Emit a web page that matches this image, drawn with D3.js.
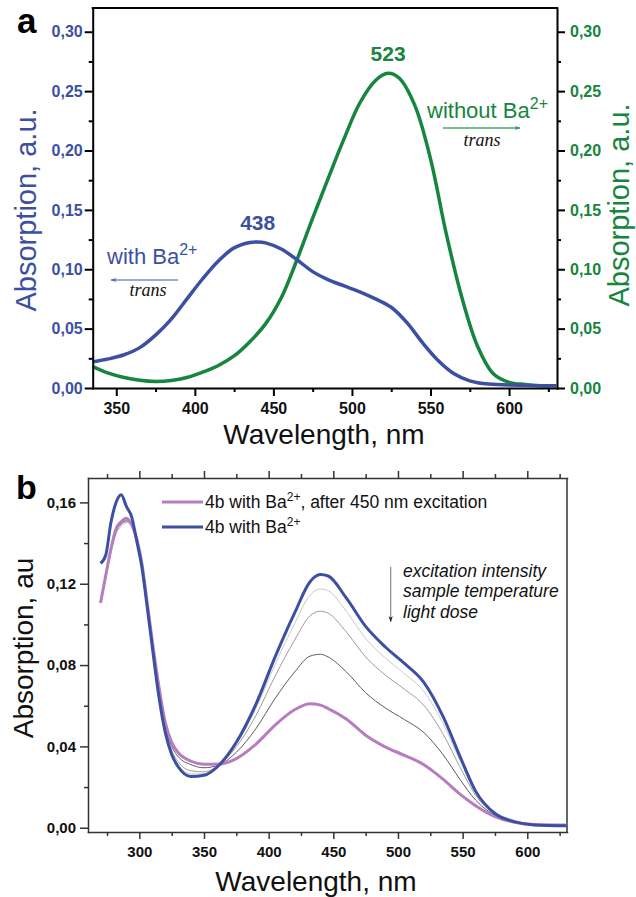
<!DOCTYPE html>
<html>
<head>
<meta charset="utf-8">
<script src="https://d3js.org/d3.v7.min.js"></script>
<style>
body { margin: 0; background: #fff; }
text { font-family: "Liberation Sans", Arial, sans-serif; }
</style>
</head>
<body>
<svg id="chart" width="636" height="897"></svg>
<script>
// ---- panel a : spectra with / without Ba2+ ----
const aWaveWith = [335,345,355,365,375,385,395,405,415,425,435,440,445,455,465,475,485,495,505,515,525,535,545,555,565,575,585,600,615,630];
const aWith     = [0.022,0.0245,0.028,0.034,0.0445,0.058,0.075,0.092,0.107,0.118,0.1225,0.123,0.1222,0.117,0.108,0.098,0.091,0.086,0.081,0.075,0.068,0.055,0.038,0.023,0.012,0.006,0.0035,0.0025,0.002,0.002];
const aWaveWithout = [335,345,355,365,375,385,395,405,415,425,435,445,455,465,475,485,495,505,515,523,530,540,550,560,570,580,590,600,610,620,630];
const aWithout     = [0.018,0.0125,0.0088,0.0065,0.0055,0.0063,0.0088,0.0133,0.019,0.027,0.039,0.054,0.076,0.108,0.143,0.177,0.210,0.240,0.259,0.265,0.261,0.238,0.193,0.130,0.076,0.035,0.012,0.0048,0.003,0.002,0.002];
const aXTicks = [350,400,450,500,550,600];
const aXMinor = [375,425,475,525,575,625];
const aYTicks = [0,0.05,0.10,0.15,0.20,0.25,0.30];
const aYMinor = [0.025,0.075,0.125,0.175,0.225,0.275];

// ---- panel b : 4b with Ba2+ before / after excitation ----
const bWave  = [270,274,278,282,286,290,294,298,302,306,310,315,320,325,330,340,350,362,375,390,405,420,432,440,446,460,475,490,505,520,535,548,560,575,590,605,631];
const bBa    = [0.130,0.134,0.150,0.160,0.1638,0.158,0.153,0.141,0.128,0.109,0.089,0.065,0.047,0.036,0.030,0.0252,0.0258,0.031,0.042,0.0605,0.084,0.1055,0.121,0.1245,0.1238,0.113,0.099,0.089,0.0808,0.0715,0.0545,0.035,0.018,0.007,0.003,0.0014,0.001];
const bAfter = [0.1105,0.124,0.137,0.147,0.1505,0.1522,0.149,0.142,0.130,0.111,0.092,0.070,0.052,0.042,0.037,0.0327,0.0312,0.0313,0.034,0.041,0.0505,0.058,0.061,0.0603,0.0586,0.0535,0.0455,0.0398,0.0356,0.031,0.0238,0.0165,0.0108,0.0055,0.0027,0.0016,0.0013];
const bLight = [0.112,0.123,0.135,0.1445,0.148,0.150,0.149,0.1415,0.129,0.110,0.090,0.066,0.048,0.037,0.031,0.0265,0.0265,0.031,0.0411,0.0584,0.0803,0.1003,0.1144,0.1174,0.1166,0.1065,0.0931,0.0836,0.0758,0.067,0.0511,0.033,0.0172,0.0068,0.0028,0.0015,0.0012];
const bMid   = [0.111,0.123,0.136,0.145,0.149,0.1505,0.1495,0.142,0.129,0.110,0.091,0.067,0.049,0.038,0.0325,0.028,0.0275,0.031,0.0398,0.055,0.0746,0.0922,0.1042,0.1065,0.1055,0.0963,0.084,0.0752,0.0681,0.0602,0.0459,0.0298,0.016,0.0066,0.0028,0.0015,0.0012];
const bDark  = [0.111,0.124,0.136,0.146,0.1495,0.151,0.149,0.142,0.130,0.111,0.091,0.068,0.050,0.040,0.035,0.031,0.0295,0.031,0.0371,0.0486,0.0636,0.0765,0.0844,0.0853,0.0840,0.0767,0.0664,0.059,0.0532,0.0468,0.0358,0.0237,0.0136,0.0061,0.0028,0.0015,0.0012];
const bXTicks = [300,350,400,450,500,550,600];
const bXMinor = [275,325,375,425,475,525,575,625];
const bYTicks = [0,0.04,0.08,0.12,0.16];
const bYMinor = [0.02,0.06,0.10,0.14];
const trendLines = ["excitation intensity", "sample temperature", "light dose"];

const BLUE = "#3b50a2", GREEN = "#16853d", PINK = "#b87cc0";

const svg = d3.select("#chart");
const fmt = d3.formatLocale({decimal: ",", thousands: ".", grouping: [3], currency: ["", ""]}).format(".2f");

const defs = svg.append("defs");
function marker(id, col) {
  defs.append("marker").attr("id", id)
    .attr("viewBox", "0 0 10 10").attr("refX", 9).attr("refY", 5)
    .attr("markerWidth", 9).attr("markerHeight", 6).attr("orient", "auto")
    .attr("markerUnits", "userSpaceOnUse")
    .append("path").attr("d", "M0,1.5 L10,5 L0,8.5 L2.5,5 Z").attr("fill", col);
}
marker("arBlue", "#5366b5");
marker("arGreen", "#2c9a52");
marker("arGrey", "#222");

function styleAxis(g, col, w, fs, txtCol) {
  g.select(".domain").attr("stroke", col).attr("stroke-width", w).attr("stroke-linecap", "square");
  g.selectAll(".tick line").attr("stroke", col).attr("stroke-width", w);
  g.selectAll(".tick text").attr("fill", txtCol).style("font-size", fs + "px").style("font-weight", "bold");
}
function minor(g, axisFn, col, w) {
  g.call(axisFn.tickSize(4).tickFormat(""));
  g.select(".domain").remove();
  g.selectAll(".tick line").attr("stroke", col).attr("stroke-width", w);
}

// ================= panel a =================
const ax = d3.scaleLinear().domain([335, 630.5]).range([92.7, 557]);
const ay = d3.scaleLinear().domain([0, 0.32]).range([388, 8]);

const pa = svg.append("g");
pa.append("line").attr("x1", ax.range()[0]).attr("x2", ax.range()[1]).attr("y1", ay(0.32)).attr("y2", ay(0.32))
  .attr("stroke", "#000").attr("stroke-width", 2).attr("stroke-linecap", "square");

const lineA = (xs) => d3.line().x((d, i) => ax(xs[i])).y(d => ay(d)).curve(d3.curveCatmullRom.alpha(0.5));
pa.append("path").attr("d", lineA(aWaveWithout)(aWithout)).attr("fill", "none").attr("stroke", GREEN).attr("stroke-width", 3.5);
pa.append("path").attr("d", lineA(aWaveWith)(aWith)).attr("fill", "none").attr("stroke", BLUE).attr("stroke-width", 3.5);

const gaB = pa.append("g").attr("transform", `translate(0,${ay(0)})`);
gaB.call(d3.axisBottom(ax).tickValues(aXTicks).tickSize(8).tickPadding(7).tickSizeOuter(0).tickFormat(d3.format("d")));
styleAxis(gaB, "#000", 2, 16, "#111");
minor(pa.append("g").attr("transform", `translate(0,${ay(0)})`), d3.axisBottom(ax).tickValues(aXMinor), "#000", 2);

const gaL = pa.append("g").attr("transform", `translate(${ax.range()[0]},0)`);
gaL.call(d3.axisLeft(ay).tickValues(aYTicks).tickSize(8).tickPadding(2).tickSizeOuter(0).tickFormat(fmt));
styleAxis(gaL, "#000", 2, 16, BLUE);
minor(pa.append("g").attr("transform", `translate(${ax.range()[0]},0)`), d3.axisLeft(ay).tickValues(aYMinor), "#000", 2);

const gaR = pa.append("g").attr("transform", `translate(${ax.range()[1]},0)`);
gaR.call(d3.axisRight(ay).tickValues(aYTicks).tickSize(8).tickPadding(5).tickSizeOuter(0).tickFormat(fmt));
styleAxis(gaR, "#000", 2, 16, GREEN);
minor(pa.append("g").attr("transform", `translate(${ax.range()[1]},0)`), d3.axisRight(ay).tickValues(aYMinor), "#000", 2);

pa.append("text").attr("x", 324).attr("y", 444).attr("text-anchor", "middle")
  .style("font-size", "28px").attr("fill", "#111").text("Wavelength, nm");
pa.append("text").attr("transform", "translate(36,210) rotate(-90)").attr("text-anchor", "middle")
  .style("font-size", "29px").attr("fill", BLUE).text("Absorption, a.u.");
pa.append("text").attr("transform", "translate(629,205) rotate(-90)").attr("text-anchor", "middle")
  .style("font-size", "29px").attr("fill", GREEN).text("Absorption, a.u.");
pa.append("text").attr("x", 17).attr("y", 33).style("font-size", "35px").style("font-weight", "bold").attr("fill", "#000").text("a");

// peak labels
pa.append("text").attr("x", ax(440)).attr("y", ay(0.123) - 12).attr("text-anchor", "middle")
  .style("font-size", "21px").style("font-weight", "bold").attr("fill", BLUE).text("438");
pa.append("text").attr("x", ax(523)).attr("y", ay(0.265) - 12).attr("text-anchor", "middle")
  .style("font-size", "21px").style("font-weight", "bold").attr("fill", GREEN).text("523");

// with Ba2+ note
const t1 = pa.append("text").attr("x", 107).attr("y", 264).style("font-size", "22px").attr("fill", BLUE);
t1.append("tspan").text("with Ba");
t1.append("tspan").attr("dy", -9).style("font-size", "16px").text("2+");
pa.append("line").attr("x1", 178).attr("x2", 111).attr("y1", 280).attr("y2", 280)
  .attr("stroke", "#7d8bc8").attr("stroke-width", 1.3).attr("marker-end", "url(#arBlue)");
pa.append("text").attr("x", 148).attr("y", 296).attr("text-anchor", "middle")
  .style("font-family", "'Liberation Serif', 'Times New Roman', serif").style("font-style", "italic")
  .style("font-size", "18px").attr("fill", "#111").text("trans");

// without Ba2+ note
const t2 = pa.append("text").attr("x", 427).attr("y", 118).style("font-size", "22px").attr("fill", GREEN);
t2.append("tspan").text("without Ba");
t2.append("tspan").attr("dy", -9).style("font-size", "16px").text("2+");
pa.append("line").attr("x1", 443).attr("x2", 520).attr("y1", 128).attr("y2", 128)
  .attr("stroke", "#4aa868").attr("stroke-width", 1.3).attr("marker-end", "url(#arGreen)");
pa.append("text").attr("x", 482).attr("y", 146).attr("text-anchor", "middle")
  .style("font-family", "'Liberation Serif', 'Times New Roman', serif").style("font-style", "italic")
  .style("font-size", "18px").attr("fill", "#111").text("trans");

// ================= panel b =================
const bx = d3.scaleLinear().domain([260.3, 630.7]).range([88, 567]);
const by = d3.scaleLinear().domain([-0.0021, 0.172]).range([832, 478]);
const pb = svg.append("g");
const FR = "#333";

pb.append("line").attr("x1", bx.range()[1]).attr("x2", bx.range()[1]).attr("y1", by.range()[0]).attr("y2", by.range()[1])
  .attr("stroke", FR).attr("stroke-width", 1.5);

const lineB = d3.line().x((d, i) => bx(bWave[i])).y(d => by(d)).curve(d3.curveMonotoneX);
const series = [
  {v: bLight, c: "#c9c9c9", w: 1},
  {v: bMid,   c: "#9c9c9c", w: 1},
  {v: bDark,  c: "#5c5c5c", w: 1},
  {v: bAfter, c: PINK, w: 3},
  {v: bBa,    c: BLUE, w: 3}
];
pb.selectAll("path.spec").data(series).enter().append("path").attr("class", "spec")
  .attr("d", d => lineB(d.v)).attr("fill", "none").attr("stroke", d => d.c).attr("stroke-width", d => d.w);

const gbB = pb.append("g").attr("transform", `translate(0,${by.range()[0]})`);
gbB.call(d3.axisBottom(bx).tickValues(bXTicks).tickSize(7).tickPadding(7).tickSizeOuter(0).tickFormat(d3.format("d")));
styleAxis(gbB, FR, 1.5, 15, "#111");
minor(pb.append("g").attr("transform", `translate(0,${by.range()[0]})`), d3.axisBottom(bx).tickValues(bXMinor), FR, 1.5);

const gbT = pb.append("g").attr("transform", `translate(0,${by.range()[1]})`);
gbT.call(d3.axisTop(bx).tickValues(bXTicks).tickSize(7).tickSizeOuter(0).tickFormat(""));
styleAxis(gbT, FR, 1.5, 15, "#111");
minor(pb.append("g").attr("transform", `translate(0,${by.range()[1]})`), d3.axisTop(bx).tickValues(bXMinor), FR, 1.5);

const gbL = pb.append("g").attr("transform", `translate(${bx.range()[0]},0)`);
gbL.call(d3.axisLeft(by).tickValues(bYTicks).tickSize(8).tickPadding(4).tickSizeOuter(0).tickFormat(fmt));
styleAxis(gbL, FR, 1.5, 15, "#111");
minor(pb.append("g").attr("transform", `translate(${bx.range()[0]},0)`), d3.axisLeft(by).tickValues(bYMinor), FR, 1.5);

pb.append("text").attr("x", 316).attr("y", 891).attr("text-anchor", "middle")
  .style("font-size", "28px").attr("fill", "#111").text("Wavelength, nm");
pb.append("text").attr("transform", "translate(33,648) rotate(-90)").attr("text-anchor", "middle")
  .style("font-size", "28px").attr("fill", "#111").text("Absorption, au");
pb.append("text").attr("x", 16).attr("y", 499).style("font-size", "34px").style("font-weight", "bold").attr("fill", "#000").text("b");

// legend
const legend = [
  {c: PINK, a: "4b with Ba", b: ", after 450 nm excitation", y: 502},
  {c: BLUE, a: "4b with Ba", b: "", y: 527}
];
legend.forEach(l => {
  pb.append("line").attr("x1", 162).attr("x2", 203).attr("y1", l.y).attr("y2", l.y).attr("stroke", l.c).attr("stroke-width", 3);
  const t = pb.append("text").attr("x", 205).attr("y", l.y + 6).style("font-size", "17.5px").attr("fill", "#111");
  t.append("tspan").text(l.a);
  t.append("tspan").attr("dy", -7).style("font-size", "12px").text("2+");
  if (l.b) t.append("tspan").attr("dy", 7).text(l.b);
});

// trend note
pb.append("line").attr("x1", 390.7).attr("x2", 390.7).attr("y1", 566.7).attr("y2", 621.7)
  .attr("stroke", "#8a8a8a").attr("stroke-width", 1.2).attr("marker-end", "url(#arGrey)");
pb.selectAll("text.trend").data(trendLines).enter().append("text").attr("class", "trend")
  .attr("x", 403).attr("y", (d, i) => 576.7 + i * 20.5)
  .style("font-size", "17.5px").style("font-style", "italic").attr("fill", "#111").text(d => d);
</script>
</body>
</html>
